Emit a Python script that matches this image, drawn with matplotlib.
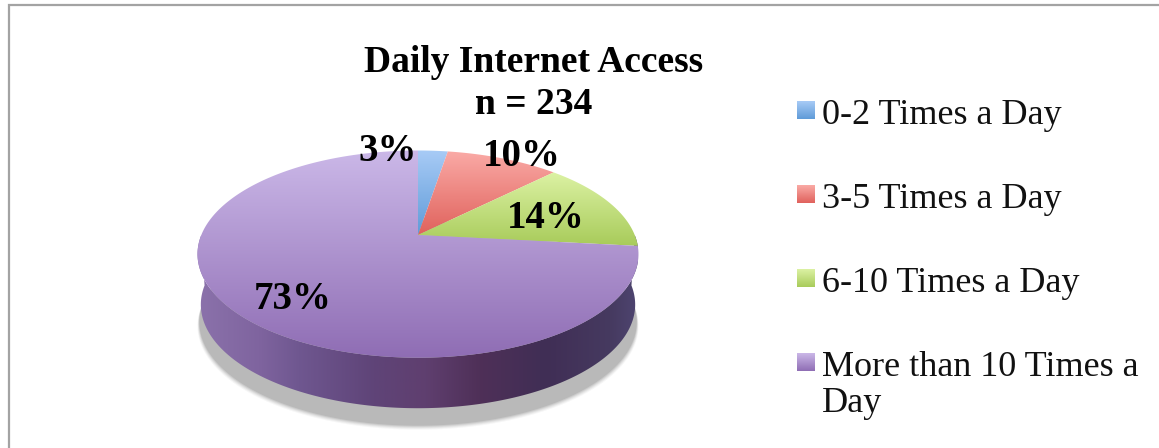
import numpy as np
import matplotlib
matplotlib.use("Agg")
import matplotlib.pyplot as plt
from matplotlib.colors import LinearSegmentedColormap
from matplotlib.patches import Polygon

# data
categories = ["0-2 Times a Day", "3-5 Times a Day", "6-10 Times a Day", "More than 10 Times a\nDay"]
shares = [2.6, 9.9, 14.2, 73.3]
title_lines = "Daily Internet Access\nn = 234"

top_colors = ["#a8cbf6", "#faaaa6", "#dcf2a4", "#cbb8e8"]
bottom_colors = ["#5f9bd8", "#e0625c", "#a8cb5a", "#8f6db4"]
label_spots = [(388, 161), (522, 166), (546, 228), (293, 309)]
legend_y = [124, 208, 292, 376]

plt.rcParams["font.family"] = ["Liberation Serif", "DejaVu Serif"]

W, H = 1159, 448
fig = plt.figure(figsize=(W / 100, H / 100), dpi=100)
ax = fig.add_axes([0, 0, 1, 1])
ax.axis("off")

# pie is drawn in pixel coords, with a bit of perspective
CX = 418
APEX_Y = 235
K = 216.7
A = -56.75
C = 0.1844


def project(theta, scale=1.0, dy=0.0):
    u, v = np.sin(theta), np.cos(theta)
    d = 1 + C * v
    return CX + scale * K * u / d, (APEX_Y + A * v) / d + dy


def gradient(poly_xy, c1, c2, extent, horizontal=False, stops=None):
    if stops is None:
        cmap = LinearSegmentedColormap.from_list("g", [c1, c2])
    else:
        cmap = LinearSegmentedColormap.from_list("g", stops)
    g = np.linspace(0, 1, 256)
    g = g.reshape(1, -1) if horizontal else g.reshape(-1, 1)
    im = ax.imshow(g, cmap=cmap, extent=extent, aspect="auto", origin="upper", zorder=3)
    im.set_clip_path(Polygon(poly_xy, closed=True, transform=ax.transData))
    return im


t = np.linspace(0, 2 * np.pi, 721)

# soft shadow under the pie
for grow, alpha in [(5, 0.05), (4, 0.07), (3, 0.09), (2, 0.12), (1, 0.15)]:
    x, y = project(t, scale=0.99 + grow * 0.002, dy=67 + grow)
    ax.fill(x, y, color="#555555", alpha=alpha, lw=0, zorder=1)

# side wall
front = np.linspace(np.pi / 2, 3 * np.pi / 2, 361)
xt, yt = project(front)
xb, yb = project(front[::-1], scale=0.985, dy=50.5)
side = np.column_stack([np.r_[xt, xb], np.r_[yt, yb]])
side_stops = [(0.0, "#8b72ab"), (0.14, "#7f649f"), (0.23, "#6f5790"), (0.40, "#5f4478"),
              (0.52, "#5f3f6f"), (0.64, "#4f3058"), (0.79, "#402e55"), (0.94, "#463a60"),
              (1.0, "#4e4570")]
gradient(side, None, None, (197, 638, 448, 100), horizontal=True, stops=side_stops)

# top face, one polygon per slice
edges = np.r_[0, np.cumsum(shares)] / sum(shares) * 2 * np.pi
for i in range(len(shares)):
    th = np.linspace(edges[i], edges[i + 1], 300)
    x, y = project(th)
    poly = np.column_stack([np.r_[CX, x], np.r_[APEX_Y, y]])
    ymin, ymax = poly[:, 1].min(), poly[:, 1].max()
    gradient(poly, top_colors[i], bottom_colors[i], (190, 645, ymax, ymin))

# slice labels
for share, (lx, ly) in zip(shares, label_spots):
    ax.text(lx, ly, "%d%%" % round(share), ha="center", va="baseline",
            fontsize=28, fontweight="bold", color="black", zorder=5)

# title
ax.text(534, 72, title_lines.split("\n")[0], ha="center", va="baseline",
        fontsize=27, fontweight="bold", zorder=5)
ax.text(534, 114, title_lines.split("\n")[1], ha="center", va="baseline",
        fontsize=27, fontweight="bold", zorder=5)

# legend
for i, name in enumerate(categories):
    by = legend_y[i]
    box = [(797, by - 23), (815, by - 23), (815, by - 5), (797, by - 5)]
    gradient(box, top_colors[i], bottom_colors[i], (797, 815, by - 5, by - 23))
    lines = name.split("\n")
    for j, line in enumerate(lines):
        ax.text(822, by + j * 36.5, line, ha="left", va="baseline", fontsize=26, color="#111111", zorder=5)

# frame: just top and left show in the crop
ax.plot([8.5, 8.5, W], [H, 5.5, 5.5], color="#a3a3a3", lw=1.6, zorder=2, solid_joinstyle="miter")

ax.set_xlim(0, W)
ax.set_ylim(H, 0)
fig.savefig("out.png", dpi=100, facecolor="white")
